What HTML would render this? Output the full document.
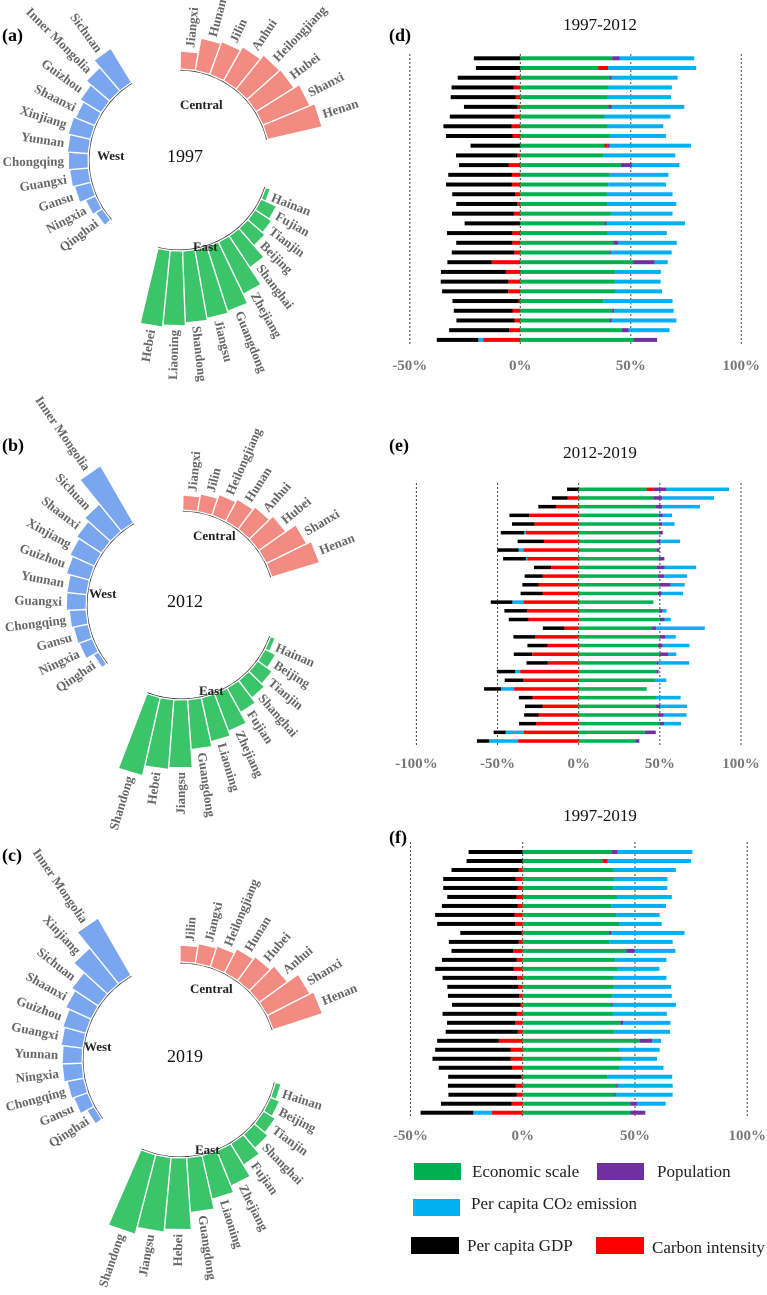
<!DOCTYPE html>
<html><head><meta charset="utf-8"><style>
html,body{margin:0;padding:0;background:#fff;}
svg{display:block;font-family:"Liberation Serif",serif;}
</style></head><body>
<svg id="fig" width="767" height="1295" viewBox="0 0 767 1295" xmlns="http://www.w3.org/2000/svg">
<g id="left"></g><g id="right"></g>
<g font-size="17" fill="#222">
 <rect x="414" y="1163" width="47" height="17" fill="#00b050"/>
 <text x="472" y="1177">Economic scale</text>
 <rect x="597" y="1163" width="47" height="17" fill="#7030a0"/>
 <text x="657" y="1177">Population</text>
 <rect x="413" y="1199" width="47" height="17" fill="#00b0f0"/>
 <text x="471" y="1209">Per capita CO<tspan font-size="12">2</tspan> emission</text>
 <rect x="411" y="1237" width="48" height="17" fill="#000"/>
 <text x="467" y="1251">Per capita GDP</text>
 <rect x="596" y="1237" width="48" height="17" fill="#ff0000"/>
 <text x="652" y="1253">Carbon intensity</text>
</g>
</svg>
<script>
// ---------- circular charts data ----------
const aWestNames=["Qinghai","Ningxia","Gansu","Guangxi","Chongqing","Yunnan","Xinjiang","Shaanxi","Guizhou","Inner Mongolia","Sichuan"];
const aWestVals=[8,11,17,19,20,21,23,21,25,31,40];
const aCentralNames=["Jiangxi","Hunan","Jilin","Anhui","Heilongjiang","Hubei","Shanxi","Henan"];
const aCentralVals=[18,33,35,39,44,45,51,56];
const aEastNames=["Hainan","Fujian","Tianjin","Beijing","Shanghai","Zhejiang","Guangdong","Jiangsu","Shandong","Liaoning","Hebei"];
const aEastVals=[5,17,20,23,38,58,68,70,72,75,77];

const bWestNames=["Qinghai","Ningxia","Gansu","Chongqing","Guangxi","Yunnan","Guizhou","Xinjiang","Shaanxi","Sichuan","Inner Mongolia"];
const bWestVals=[6,14,15,17,20,20,24,27,30,35,66];
const bCentralNames=["Jiangxi","Jilin","Heilongjiang","Hunan","Anhui","Hubei","Shanxi","Henan"];
const bCentralVals=[15,18,22,25,28,33,45,50];
const bEastNames=["Hainan","Beijing","Tianjin","Shanghai","Fujian","Zhejiang","Liaoning","Guangdong","Jiangsu","Hebei","Shandong"];
const bEastVals=[5,12,18,22,28,40,45,50,68,70,80];

const cWestNames=["Qinghai","Gansu","Chongqing","Ningxia","Yunnan","Guangxi","Guizhou","Shaanxi","Sichuan","Xinjiang","Inner Mongolia"];
const cWestVals=[8,15,17,20,20,22,24,28,32,46,66];
const cCentralNames=["Jilin","Jiangxi","Heilongjiang","Hunan","Hubei","Anhui","Shanxi","Henan"];
const cCentralVals=[17,20,22,27,30,35,48,52];
const cEastNames=["Hainan","Beijing","Tianjin","Shanghai","Fujian","Zhejiang","Liaoning","Guangdong","Hebei","Jiangsu","Shandong"];
const cEastVals=[6,10,14,18,25,38,45,55,72,75,82];

// ---------- stacked bar data (percent) ----------
const dGdp=[-21.0,-20.1,-26.3,-28.1,-29.4,-24.0,-29.3,-30.9,-30.1,-22.5,-27.7,-22.4,-28.8,-29.8,-28.4,-27.5,-28.0,-25.2,-29.6,-25.4,-28.3,-20.0,-29.4,-30.6,-29.9,-29.9,-26.6,-26.3,-27.2,-18.8];
const dCi=[0,4.4,-2.0,-3.0,-2.1,-1.5,-2.6,-3.9,-3.5,1.4,-1.4,-5.3,-3.8,-3.8,-2.4,-1.5,-2.9,0,-3.6,-3.6,-2.7,-13.0,-6.5,-5.4,-5.5,-0.8,-3.5,-2.6,-5.0,-16.7];
const dPcc=[33.8,39.9,29.9,28.7,28.7,32.9,29.8,25.2,25.5,36.7,32.4,21.5,26.6,26.1,29.7,31.1,28.1,35.5,26.8,26.6,27.5,6.0,20.7,20.7,21.0,31.4,26.9,29.3,18.4,-2.3];
const dPop=[3.3,0,0.9,0,0,1.4,0,0,0,1.0,0,5.0,0,0,0,0,0,1.0,0,2.0,0.6,9.5,0,0,0,0,0.9,0.9,3.2,10.5];
const dEs=[41.6,35.3,40.4,39.9,39.5,39.9,38.1,39.5,40.4,38.1,37.7,45.5,40.4,39.8,39.2,39.5,40.8,38.0,39.5,42.2,40.4,51.2,42.9,42.8,43.1,37.5,41.6,40.4,45.9,51.4];

const eGdp=[-7.2,-9.7,-10.9,-12.1,-13.8,-14.4,-16.2,-13.1,-14.0,-10.5,-11.1,-9.9,-13.6,-13.3,-14.0,-12.1,-13.3,-13.3,-12.5,-11.3,-13.1,-11.3,-11.5,-10.5,-8.4,-10.9,-9.0,-10.5,-7.4,-7.6];
const eCi=[4.1,-6.8,-14.0,-30.6,-27.3,-32.6,-21.4,-34.1,-31.6,-17.0,-22.2,-24.8,-22.2,-34.1,-31.8,-31.0,-8.8,-26.9,-19.1,-28.7,-19.1,-36.1,-34.1,-39.8,-28.5,-22.2,-24.6,-26.3,-33.7,-37.4];
const ePcc=[38.8,31.8,23.2,5.7,7.6,-1.0,12.1,-2.9,-1.0,19.5,14.2,8.8,13.1,-6.8,2.3,3.7,30.0,6.4,16.4,4.9,18.9,-3.1,7.0,-8.0,15.2,16.6,14.2,10.5,-11.3,-17.7];
const ePop=[7.8,5.5,4.1,2.5,2.1,2.5,2.3,1.8,3.5,4.9,3.9,6.8,2.5,0,2.1,2.9,2.5,3.7,3.1,5.5,1.2,1.2,0,0,0,2.5,3.5,2.9,6.8,2.5];
const eEs=[41.9,46.0,47.4,49.3,49.3,49.3,48.0,48.0,49.3,48.0,48.7,49.7,48.7,46.0,49.7,50.1,45.2,49.7,48.7,49.7,48.0,48.0,47.0,41.9,47.6,47.6,48.7,49.7,40.7,34.9];

const fGdp=[-24.1,-25.0,-29.8,-32.3,-33.2,-30.8,-33.8,-35.3,-34.8,-27.4,-31.1,-27.5,-33.3,-35.0,-33.2,-31.5,-31.7,-30.5,-33.0,-30.4,-32.1,-27.4,-33.6,-34.8,-32.6,-32.6,-30.2,-30.4,-31.5,-23.5];
const fCi=[0,2.2,-1.9,-3.1,-2.2,-2.8,-2.2,-3.7,-3.3,-0.4,-1.8,-4.2,-2.7,-4.0,-2.5,-2.1,-1.6,-1.0,-2.7,-3.3,-2.2,-10.7,-5.4,-5.4,-4.8,-0.6,-3.1,-2.7,-4.9,-13.8];
const fPcc=[33.3,37.2,28.0,23.7,24.1,24.4,24.4,19.3,19.0,32.6,28.3,18.2,22.8,18.6,23.5,25.6,26.5,28.3,24.0,21.1,24.8,4.0,18.1,15.8,19.8,28.7,24.4,25.3,12.8,-8.2];
const fPop=[2.7,0,0,0,0,0,0,0,0,1.0,0,3.7,0,0,0,0,0,0.6,0,1.2,0,5.5,0,0,0,0,0.7,0.7,3.0,6.7];
const fEs=[39.6,35.6,40.2,40.8,40.3,42.0,39.4,41.7,42.9,38.5,38.5,46.1,41.2,42.3,40.5,40.5,39.9,39.4,40.2,43.5,40.8,52.1,42.9,44.0,42.9,37.9,41.7,40.8,47.9,47.9];
const tickPct=[-100,-50,0,50,100];

const NS="http://www.w3.org/2000/svg";
function mk(tag,attrs,parent){const e=document.createElementNS(NS,tag);for(const k in attrs)e.setAttribute(k,attrs[k]);parent.appendChild(e);return e;}
const L=document.getElementById('left'),R=document.getElementById('right');

function circ(cx,cy,r0,a0,a1,names,vals,color,grp,lbl){
  const g=mk('g',{},L);
  
  
  const n=names.length,step=(a1-a0)/n,rad=Math.PI/180;
  const p=(r,a)=>[cx+r*Math.cos(a*rad),cy+r*Math.sin(a*rad)];
  const s=p(r0-1,a0),e=p(r0-1,a1);
  const arc=mk('path',{d:`M${s[0]},${s[1]} A${r0-1},${r0-1} 0 0 1 ${e[0]},${e[1]}`,fill:'none',stroke:'#333','stroke-width':1},g);
  
  
  for(let i=0;i<n;i++){
    const b0=a0+i*step,b1=b0+step,r1=r0+vals[i];
    const q=[p(r0,b0),p(r1,b0),p(r1,b1),p(r0,b1)];
    const w=mk('path',{d:'M'+q.map(v=>v.join(',')).join('L')+'Z',fill:color,stroke:'#fff','stroke-width':1.3},g);
    
    
    const am=(b0+b1)/2,pt=p(r1+4,am),right=Math.cos(am*rad)>=0;
    const t=mk('text',{x:0,y:0,transform:`translate(${pt[0]},${pt[1]}) rotate(${right?am:am+180})`,'text-anchor':right?'start':'end','dominant-baseline':'central','font-size':13,'font-weight':'bold',fill:'#666'},g);
    t.textContent=names[i];
    
    
  }
  const gl=mk('text',{x:lbl[0],y:lbl[1],'font-size':13,'font-weight':'bold',fill:'#222'},g);
  gl.textContent=grp.split('-').pop().replace(/^./,c=>c.toUpperCase());
  
  
}
function polar(id,cx,cy,r,year,ly,spans,W,C,E,labs){
  const pl=mk('text',{x:2,y:ly,'font-size':18,'font-weight':'bold',fill:'#000'},L);
  pl.textContent='('+id+')';
  
  
  const yt=mk('text',{x:185,y:cy+2,'font-size':18,'text-anchor':'middle',fill:'#111'},L);
  yt.textContent=year;
  
  
  circ(cx,cy,r,spans[0],spans[1],W[0],W[1],'#7aa6f0',id+'-west',labs[0]);
  circ(cx,cy,r,spans[2],spans[3],C[0],C[1],'#f28b82',id+'-central',labs[1]);
  circ(cx,cy,r,spans[4],spans[5],E[0],E[1],'#3cc46a',id+'-east',labs[2]);
}
polar('a',179,160,91,'1997',41,[138.6,238.6,270.7,347,17.6,103.4],[aWestNames,aWestVals],[aCentralNames,aCentralVals],[aEastNames,aEastVals],[[97,160],[180,109],[193,251]]);
polar('b',181,605,95,'2012',451,[141.5,240,271,343,19.4,111],[bWestNames,bWestVals],[bCentralNames,bCentralVals],[bEastNames,bEastVals],[[89,598],[193,540],[199,695]]);
polar('c',180,1060,98,'2019',861,[142.8,240,270,342,13.3,113.5],[cWestNames,cWestVals],[cCentralNames,cCentralVals],[cEastNames,cEastVals],[[84,1051],[190,993],[195,1154]]);

// ---------- stacked bar panels ----------
const COL={gdp:'#000',ci:'#ff0000',pcc:'#00b0f0',pop:'#7030a0',es:'#00b050'};
function panel(id,title,tY,lY,x0,ppp,ticks,y0,dy,bh,lineY0,lineY1,tickY,S){
  const g=mk('g',{},R);
  
  
  const xs=v=>x0+v*ppp;
  const pl=mk('text',{x:389,y:lY,'font-size':18,'font-weight':'bold',fill:'#000'},g);
  pl.textContent='('+id+')';
  
  
  const tt=mk('text',{x:600,y:tY,'font-size':17,'text-anchor':'middle',fill:'#111'},g);
  tt.textContent=title;
  
  
  ticks.forEach(t=>{
    const ln=mk('line',{x1:xs(t),x2:xs(t),y1:lineY0,y2:lineY1,stroke:'#444','stroke-width':1,'stroke-dasharray':'2,2'},g);
    
    
    const tl=mk('text',{x:xs(t),y:tickY,'font-size':15,'font-weight':'bold','text-anchor':'middle',fill:'#777'},g);
    tl.textContent=t+'%';
    
    
  });
  const n=S.es.length;
  for(let i=0;i<n;i++){
    const y=y0+i*dy-bh/2;
    let pos=0,neg=0;
    const draw=(k,v)=>{
      if(!v)return;
      let a,b;
      if(v>0){a=pos;b=pos+v;pos=b;}else{a=neg+v;b=neg;neg=a;}
      const r=mk('rect',{x:xs(a),y:y,width:Math.max(0,xs(b)-xs(a)),height:bh,fill:COL[k]},g);
      
      
    };
    ['ci','pcc','pop','gdp'].forEach(k=>{if(S[k][i]<0)draw(k,S[k][i]);});
    ['es','gdp','ci','pop','pcc'].forEach(k=>{if(S[k][i]>0)draw(k,S[k][i]);});
  }
}
panel('d','1997-2012',30,41,520.3,2.21,[-50,0,50,100],58.3,9.71,4,54,345,370,{gdp:dGdp,ci:dCi,pcc:dPcc,pop:dPop,es:dEs});
panel('e','2012-2019',458,451,578.7,1.623,tickPct,489.3,8.68,3.5,483,745,768,{gdp:eGdp,ci:eCi,pcc:ePcc,pop:ePop,es:eEs});
panel('f','1997-2019',821,843,522.7,2.245,[-50,0,50,100],852,8.99,4,842,1118,1140,{gdp:fGdp,ci:fCi,pcc:fPcc,pop:fPop,es:fEs});
</script>
</body></html>
